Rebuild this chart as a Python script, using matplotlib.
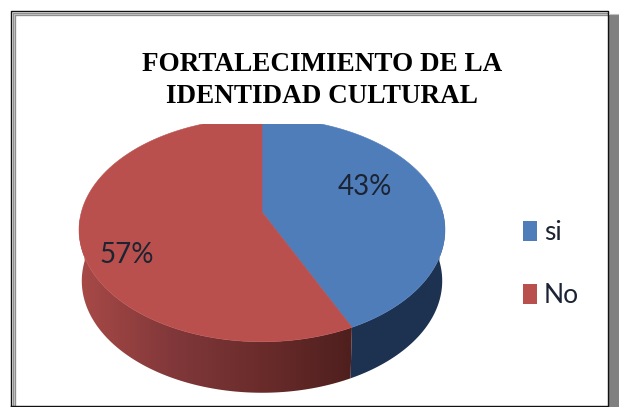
import numpy as np
import matplotlib
matplotlib.use("Agg")
import matplotlib.pyplot as plt
from matplotlib.colors import LinearSegmentedColormap
from matplotlib.patches import Polygon, Rectangle

labels = ["si", "No"]
values = [43, 57]
title_lines = ["FORTALECIMIENTO DE LA", "IDENTIDAD CULTURAL"]

top_colors = ["#4f7dba", "#b9504d"]
blue_wall = "#1d3150"

# pie geometry in image pixels, perspective squeezes the far half
cx, cy = 262, 212
A, B, k = 180.6, 109, 0.16
depth = 51
clip_top = 124


def rim(theta, shrink=1.0, shift=0):
    u = np.sin(theta)
    v = np.cos(theta)
    d = 1 + k * v
    return cx + shrink * A * u / d, cy - B * v / d + shift


def main():
    fig = plt.figure(figsize=(6.19, 4.07), dpi=100)
    ax = fig.add_axes([0, 0, 1, 1])
    ax.set_xlim(0, 619)
    ax.set_ylim(407, 0)
    ax.axis("off")

    # frame and shadow, grey inner line only on left and top
    ax.add_patch(Rectangle((609, 15), 10, 392, color="#808080", lw=0))
    ax.plot([610, 619], [13.5, 13.5], color="#c0c0c0", lw=0.8)
    ax.plot([13.5, 13.5, 607], [405, 13.5, 13.5], color="#8f8f8f", lw=2.4, solid_joinstyle="miter")
    ax.plot([13.5, 13.5, 607], [405, 13.5, 13.5], color="#c8c8c8", lw=0.6, solid_joinstyle="miter")
    ax.plot([10.5, 10.5, 608, 608, 10.5], [405.5, 10.5, 10.5, 405.5, 405.5], color="#111111", lw=1.0)

    fractions = np.array(values) / sum(values)
    edges = np.concatenate([[0], np.cumsum(fractions)]) * 2 * np.pi
    split = edges[1]

    # walls
    t = np.linspace(np.pi / 2 - 0.02, split, 80)
    x1, y1 = rim(t)
    x2, y2 = rim(t[::-1], 0.985, depth)
    ax.add_patch(Polygon(np.c_[np.r_[x1, x2], np.r_[y1, y2]], fc=blue_wall, ec="none"))

    t = np.linspace(split, 3 * np.pi / 2 + 0.02, 120)
    x1, y1 = rim(t)
    x2, y2 = rim(t[::-1], 0.985, depth)
    wall = Polygon(np.c_[np.r_[x1, x2], np.r_[y1, y2]], fc="none", ec="none")
    ax.add_patch(wall)
    cmap = LinearSegmentedColormap.from_list("wall", ["#a84a47", "#82383a", "#6a2c2b", "#4e1f1e"])
    im = ax.imshow(np.linspace(0, 1, 256)[None, :], extent=[79, 353, 400, 220], cmap=cmap,
                   aspect="auto", zorder=2)
    im.set_clip_path(wall)

    # top face, far edge is cut off flat under the title
    clip = Rectangle((0, clip_top), 619, 407, transform=ax.transData)
    for i in range(len(values)):
        t = np.linspace(edges[i], edges[i + 1], 160)
        x, y = rim(t)
        p = Polygon(np.c_[np.r_[cx, x], np.r_[cy, y]], fc=top_colors[i], ec=top_colors[i],
                    lw=0.4, zorder=3)
        ax.add_patch(p)
        p.set_clip_path(clip)

    ax.set_xlim(0, 619)
    ax.set_ylim(407, 0)

    title_font = dict(ha="center", va="center", family="Liberation Serif", weight="bold",
                      fontsize=19.5, color="black")
    ax.text(322, 64.5, title_lines[0], **title_font)
    ax.text(322, 96.5, title_lines[1], **title_font)

    label_font = dict(family="Lato", color="#1c2433", ha="center", va="center", zorder=4)
    ax.text(364.5, 187, "%d%%" % values[0], fontsize=20, **label_font)
    ax.text(126.5, 255, "%d%%" % values[1], fontsize=20, **label_font)

    # legend
    ys = [231, 294]
    for name, color, y in zip(labels, top_colors, ys):
        ax.add_patch(Rectangle((523, y - 10), 14, 20, fc=color, ec="none"))
        ax.text(544, y + 1.5, name, family="Lato", fontsize=19, color="#1c2433", va="center", ha="left")

    fig.savefig("out.png", dpi=100)


if __name__ == "__main__":
    main()
